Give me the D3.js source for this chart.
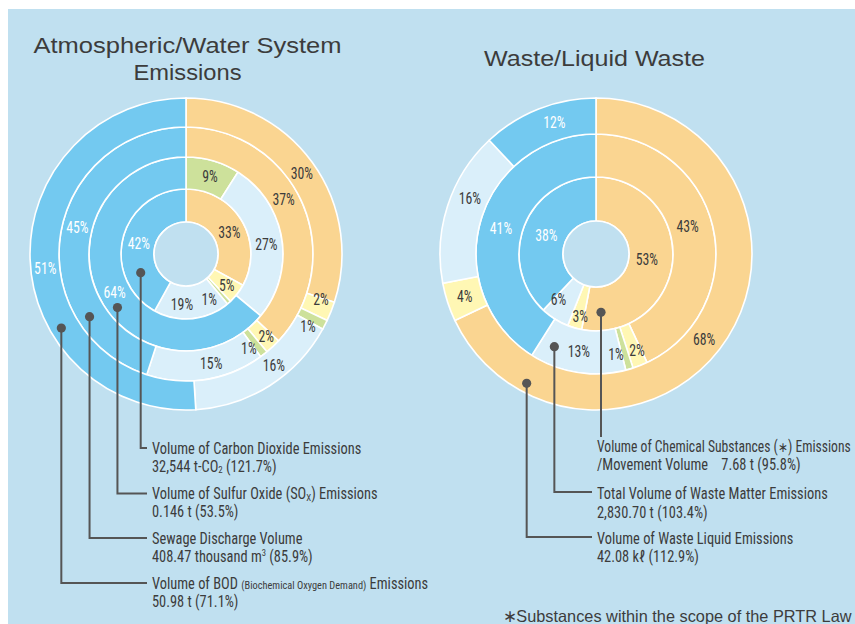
<!DOCTYPE html>
<html>
<head>
<meta charset="utf-8">
<script src="https://cdn.jsdelivr.net/npm/d3@7"></script>
<style>
  body { margin: 0; background: #fff; }
  svg { display: block; }
</style>
</head>
<body>
<svg id="chart"></svg>
<script>
// ---- data (shares in %, rings listed inside -> out) ----
// Atmospheric / Water System Emissions
const co2Shares = [33, 5, 1, 19, 42];
const co2Keys = ['orange', 'yellow', 'green', 'pale', 'blue'];
const soxShares = [9, 27, 64];
const soxKeys = ['green', 'pale', 'blue'];
const sewageShares = [37, 2, 1, 15, 45];
const sewageKeys = ['orange', 'yellow', 'green', 'pale', 'blue'];
const bodShares = [30, 2, 1, 16, 51];
const bodKeys = ['orange', 'yellow', 'green', 'pale', 'blue'];

// Waste / Liquid Waste
const chemShares = [53, 3, 6, 38];
const chemKeys = ['orange', 'yellow', 'pale', 'blue'];
const wasteShares = [43, 2, 1, 13, 41];
const wasteKeys = ['orange', 'yellow', 'green', 'pale', 'blue'];
const liquidShares = [68, 4, 16, 12];
const liquidKeys = ['orange', 'yellow', 'pale', 'blue'];

const chartTitles = [['Atmospheric/Water System', 'Emissions'], ['Waste/Liquid Waste']];

// legend texts, [name line, value line]; ['x','sub'] etc. mark small parts
const leftNotes = [
  ['Volume of Carbon Dioxide Emissions', ['32,544 t-CO', ['2', 'sub'], ' (121.7%)']],
  [['Volume of Sulfur Oxide (SO', ['X', 'sub'], ') Emissions'], '0.146 t (53.5%)'],
  ['Sewage Discharge Volume', ['408.47 thousand m', ['3', 'sup'], ' (85.9%)']],
  [['Volume of BOD ', ['(Biochemical Oxygen Demand)', 'small'], ' Emissions'], '50.98 t (71.1%)']
];
const rightNotes = [
  [['Volume of Chemical Substances (', ['\u2217', 'mark'], ') Emissions'], '/Movement Volume\u00a0\u00a0\u00a0 7.68 t (95.8%)'],
  ['Total Volume of Waste Matter Emissions', '2,830.70 t (103.4%)'],
  ['Volume of Waste Liquid Emissions', '42.08 k\u2113 (112.9%)']
];
const footnote = '\u2217Substances within the scope of the PRTR Law';

// ---- styles ----
const W = 855, H = 624;
const colors = { orange: '#fad591', yellow: '#fff7b4', green: '#cde19b', pale: '#daeffa', blue: '#73c9f0' };
const bg = '#c0e0f0';
const ink = '#3c3c3c';
const leadInk = '#555555';
const narrow = '"Liberation Sans Narrow", "Roboto Condensed", "DejaVu Sans Condensed", sans-serif';
const plain = '"Liberation Sans", Arial, sans-serif';

const svg = d3.select('#chart').attr('width', W).attr('height', H);

svg.append('rect')
  .attr('x', 8).attr('y', 9)
  .attr('width', W - 8).attr('height', H - 9)
  .attr('fill', bg);

// squeeze a single-run text node horizontally
function squeeze(node, k) {
  const w = node.getComputedTextLength();
  d3.select(node).attr('textLength', w * k).attr('lengthAdjust', 'spacingAndGlyphs');
}

function drawDonut(cx, cy, radii, rings) {
  const g = svg.append('g').attr('transform', `translate(${cx},${cy})`);
  const pie = d3.pie().sort(null).value(d => d.v);

  rings.forEach((ring, i) => {
    const arc = d3.arc().innerRadius(radii[i]).outerRadius(radii[i + 1]);
    const slices = pie(ring.shares.map((v, j) => ({ v, k: ring.keys[j] })));

    g.append('g')
      .selectAll('path')
      .data(slices)
      .join('path')
      .attr('d', arc)
      .attr('fill', d => colors[d.data.k])
      .attr('stroke', '#fff')
      .attr('stroke-width', 1.6);

    // labels sit at the centroid, nudged a bit for the thin slices
    const rMid = (radii[i] + radii[i + 1]) / 2;
    g.append('g')
      .selectAll('text')
      .data(slices)
      .join('text')
      .attr('transform', (d, j) => {
        const a = (d.startAngle + d.endAngle) / 2 + (ring.da[j] || 0) * Math.PI / 180;
        const r = rMid + (ring.dr ? ring.dr[j] : 0);
        return `translate(${Math.sin(a) * r},${-Math.cos(a) * r})`;
      })
      .attr('text-anchor', 'middle')
      .attr('dy', '0.36em')
      .attr('fill', d => (d.data.k === 'blue' ? '#fff' : ink))
      .style('font-family', narrow)
      .style('font-size', '16px')
      .text(d => d.data.v + '%')
      .each(function() { squeeze(this, 0.86); });
  });

  g.append('circle')
    .attr('r', radii[0])
    .attr('fill', bg)
    .attr('stroke', '#fff')
    .attr('stroke-width', 1.6);

  return g;
}

// one line of note text; condensed with a horizontal scale
function richLine(x, y, parts, size, maxW) {
  const g = svg.append('g');
  const t = g.append('text')
    .attr('x', 0).attr('y', 0)
    .attr('fill', ink)
    .style('font-family', narrow)
    .style('font-size', size + 'px');
  const list = typeof parts === 'string' ? [parts] : parts;
  let shift = 0;
  list.forEach(p => {
    const txt = typeof p === 'string' ? p : p[0];
    const kind = typeof p === 'string' ? null : p[1];
    let want = 0, fs = size;
    if (kind === 'sub') { want = 1.5; fs = size * 0.62; }
    if (kind === 'sup') { want = -5.5; fs = size * 0.6; }
    if (kind === 'small') { want = -0.5; fs = size * 0.72; }
    if (kind === 'mark') { want = 0; fs = size * 0.9; }
    t.append('tspan')
      .attr('dy', want - shift)
      .style('font-size', fs + 'px')
      .style('font-family', kind === 'mark' ? plain : null)
      .text(txt);
    shift = want;
  });
  const w = t.node().getComputedTextLength();
  const k = Math.min(0.9, maxW / w);
  g.attr('transform', `translate(${x},${y}) scale(${k},1)`);
  return g;
}

// dot in a ring, line down and across to the note
function drawNote(cx, cy, lead, textX, lines) {
  const a = lead.angle * Math.PI / 180;
  const x = cx + Math.sin(a) * lead.r;
  const y = cy - Math.cos(a) * lead.r;
  const path = d3.path();
  path.moveTo(x, y);
  path.lineTo(x, lead.y);
  if (lead.across) path.lineTo(textX - 5, lead.y);
  svg.append('path')
    .attr('d', path.toString())
    .attr('fill', 'none')
    .attr('stroke', leadInk)
    .attr('stroke-width', 2);
  svg.append('circle')
    .attr('cx', x).attr('cy', y).attr('r', 4.6)
    .attr('fill', leadInk);
  lines.forEach((line, i) => richLine(textX, lead.base[i], line, 16, W - 4 - textX));
}

// ---- left chart ----
const leftC = [186, 254];
drawDonut(leftC[0], leftC[1], [32, 65, 97, 127, 156], [
  { shares: co2Shares, keys: co2Keys, da: [4, 0, 14, 10, -1], dr: [0, 3, 2, 2, 0] },
  { shares: soxShares, keys: soxKeys, da: [1, 2, -3] },
  { shares: sewageShares, keys: sewageKeys, da: [-6, -1, 4, -4, 5], dr: [0, 3, 1, 0, 0] },
  { shares: bodShares, keys: bodKeys, da: [1, -3, 3.5, -6, -4], dr: [0, 1, 0, 0, 0] }
]);

const leftLeads = [
  { angle: 247.6, r: 49, y: 448, across: true, base: [453.5, 471.5] },
  { angle: 232, r: 87, y: 493.5, across: true, base: [499, 517] },
  { angle: 237, r: 115, y: 538, across: true, base: [543.5, 561.5] },
  { angle: 239.3, r: 145, y: 583, across: true, base: [589, 607] }
];
leftNotes.forEach((n, i) => drawNote(leftC[0], leftC[1], leftLeads[i], 152, n));

// ---- right chart ----
const rightC = [596, 254];
drawDonut(rightC[0], rightC[1], [33, 77, 120, 156], [
  { shares: chemShares, keys: chemKeys, da: [0, -2, 7, -1], dr: [-4, 9, 4, -2] },
  { shares: wasteShares, keys: wasteKeys, da: [-4, -1.5, 5, 1, -1], dr: [-3, 6, 4, 0, 0] },
  { shares: liquidShares, keys: liquidKeys, da: [6, 0, 6, 4] }
]);

const rightLeads = [
  { angle: 175.1, r: 58.5, y: 437, across: false, base: [451.5, 470] },
  { angle: 204.2, r: 101.6, y: 492, across: true, base: [499, 517.5] },
  { angle: 208.2, r: 146.7, y: 537, across: true, base: [543.5, 561.5] }
];
rightNotes.forEach((n, i) => drawNote(rightC[0], rightC[1], rightLeads[i], 597, n));

// ---- titles ----
const titleSpec = [
  { x: 187.5, base: [53, 80], len: [308, 108] },
  { x: 594.5, base: [66], len: [221] }
];
chartTitles.forEach((lines, i) => {
  lines.forEach((line, j) => {
    svg.append('text')
      .attr('x', titleSpec[i].x)
      .attr('y', titleSpec[i].base[j])
      .attr('text-anchor', 'middle')
      .attr('fill', ink)
      .attr('textLength', titleSpec[i].len[j])
      .attr('lengthAdjust', 'spacingAndGlyphs')
      .style('font-family', plain)
      .style('font-size', '22.5px')
      .text(line);
  });
});

svg.append('text')
  .attr('x', 502.5)
  .attr('y', 621.5)
  .attr('fill', ink)
  .attr('textLength', 349)
  .attr('lengthAdjust', 'spacingAndGlyphs')
  .style('font-family', plain)
  .style('font-size', '16.5px')
  .text(footnote);
</script>
</body>
</html>
